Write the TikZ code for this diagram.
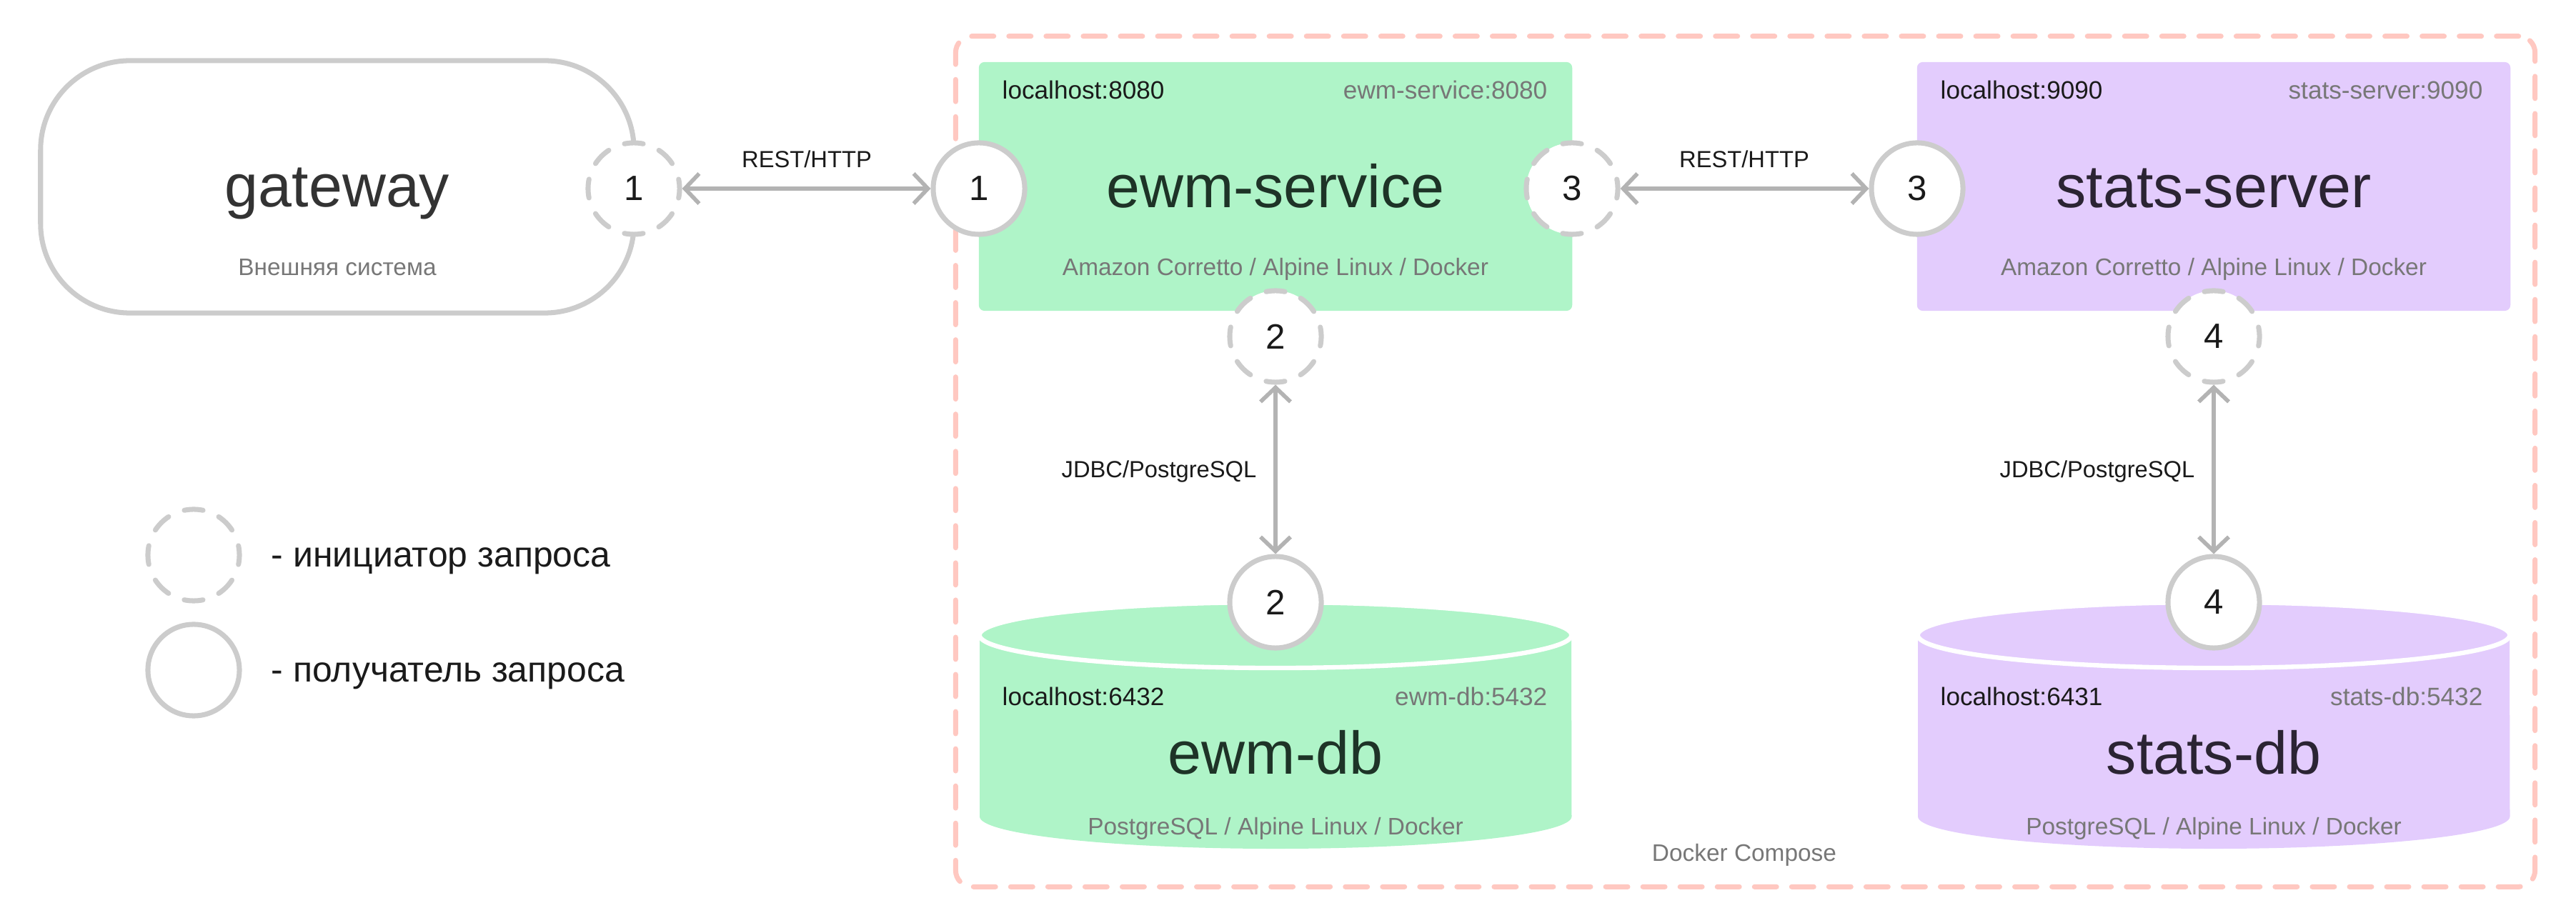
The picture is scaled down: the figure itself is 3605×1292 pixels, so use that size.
\documentclass[tikz,border=0pt]{standalone}
\usepackage{fontspec}
\setmainfont{Liberation Sans}
\usetikzlibrary{arrows.meta}
\definecolor{cgreen}{HTML}{AFF4C8}
\definecolor{cpurple}{HTML}{E3CCFD}
\definecolor{cring}{HTML}{CCCCCC}
\definecolor{carrow}{HTML}{B3B3B3}
\definecolor{cborder}{HTML}{FFC8C1}
\definecolor{cgraytext}{HTML}{777777}
\definecolor{cdark}{HTML}{1A1A1A}
\definecolor{cgreentext}{HTML}{1E3327}
\definecolor{cpurpletext}{HTML}{2B2433}
\begin{document}
\begin{tikzpicture}[x=0.01cm,y=-0.01cm,
  ring/.style={circle, draw=cring, fill=white, line width=2pt, minimum size=1.28cm, inner sep=0pt,
    font=\fontsize{14pt}{16pt}\selectfont, text=cdark},
  initring/.style={ring, dash pattern=on 7.5pt off 6.8pt, dash phase=3.75pt, line cap=round},
  conn/.style={draw=carrow, line width=1.6pt,
    {Straight Barb[length=0.2cm,width=0.42cm]}-{Straight Barb[length=0.2cm,width=0.42cm]}},
  box/.style={rounded corners=0.08cm, minimum width=8.3cm, minimum height=3.48cm, inner sep=0pt},
  bigtxt/.style={font=\fontsize{24pt}{28pt}\selectfont, anchor=base, inner sep=0pt},
  porttxt/.style={font=\fontsize{10pt}{12pt}\selectfont, inner sep=0pt},
  subtxt/.style={font=\fontsize{9.5pt}{11pt}\selectfont, text=cgraytext, anchor=mid, inner sep=0pt},
  labtxt/.style={font=\fontsize{9.3pt}{11pt}\selectfont, text=cdark, inner sep=0pt},
  legtxt/.style={font=\fontsize{14.2pt}{17pt}\selectfont, text=cdark, anchor=base west, inner sep=0pt}
]
\useasboundingbox (0,0) rectangle (3605,1292);

% Docker Compose border
\node[draw=cborder, line width=2pt, dash pattern=on 8.8pt off 6pt, line cap=round,
      rounded corners=0.23cm, minimum width=22.09cm, minimum height=11.9cm, inner sep=0pt]
      (compose) at (2442.5,646) {};
\node[subtxt] (composelbl) at (2441,1196) {Docker Compose};

% gateway
\node[draw=cring, line width=2pt, rounded corners=1.25cm, minimum width=8.3cm,
      minimum height=3.53cm, inner sep=0pt] (gw) at (472,261.5) {};
\node[bigtxt, text=black!80] (gwname) at (472,290) {gateway};
\node[subtxt] (gwsub) at (472,376) {Внешняя система};

% service boxes
\node[box, fill=cgreen] (ewm) at (1785,261) {};
\node[box, fill=cpurple] (stats) at (3098,261) {};

\node[porttxt, text=cdark, anchor=mid west] (ewmloc) at (1402,129) {localhost:8080};
\node[porttxt, text=cgraytext, anchor=mid east] (ewmint) at (2166,129) {ewm-service:8080};
\node[bigtxt, text=cgreentext] (ewmname) at (1785,291) {ewm-service};
\node[subtxt] (ewmsub) at (1785,376) {Amazon Corretto / Alpine Linux / Docker};

\node[porttxt, text=cdark, anchor=mid west] (statsloc) at (2715,129) {localhost:9090};
\node[porttxt, text=cgraytext, anchor=mid east] (statsint) at (3475,129) {stats-server:9090};
\node[bigtxt, text=cpurpletext] (statsname) at (3098,291) {stats-server};
\node[subtxt] (statssub) at (3098,376) {Amazon Corretto / Alpine Linux / Docker};

% databases
\begin{scope}[shift={(1785,0)}]
  \fill[cgreen] (-414,889) -- (-414,1143) arc[start angle=180,end angle=360,x radius=4.14cm,y radius=0.45cm] -- (414,889) -- cycle;
  \filldraw[fill=cgreen, draw=white, line width=1.8pt] (0,889) ellipse[x radius=4.14cm, y radius=0.46cm];
\end{scope}
\begin{scope}[shift={(3098,0)}]
  \fill[cpurple] (-414,889) -- (-414,1143) arc[start angle=180,end angle=360,x radius=4.14cm,y radius=0.45cm] -- (414,889) -- cycle;
  \filldraw[fill=cpurple, draw=white, line width=1.8pt] (0,889) ellipse[x radius=4.14cm, y radius=0.46cm];
\end{scope}

\node[porttxt, text=cdark, anchor=mid west] (ewmdbloc) at (1402,978) {localhost:6432};
\node[porttxt, text=cgraytext, anchor=mid east] (ewmdbint) at (2166,978) {ewm-db:5432};
\node[bigtxt, text=cgreentext] (ewmdbname) at (1785,1084) {ewm-db};
\node[subtxt] (ewmdbsub) at (1785,1159) {PostgreSQL / Alpine Linux / Docker};

\node[porttxt, text=cdark, anchor=mid west] (statsdbloc) at (2715,978) {localhost:6431};
\node[porttxt, text=cgraytext, anchor=mid east] (statsdbint) at (3475,978) {stats-db:5432};
\node[bigtxt, text=cpurpletext] (statsdbname) at (3098,1084) {stats-db};
\node[subtxt] (statsdbsub) at (3098,1159) {PostgreSQL / Alpine Linux / Docker};

% circles
\node[initring] (c1a) at (887,264) {1};
\node[ring] (c1b) at (1370,264) {1};
\node[initring] (c3a) at (2200,264) {3};
\node[ring] (c3b) at (2683,264) {3};
\node[initring] (c2a) at (1785,471) {2};
\node[ring] (c2b) at (1785,843) {2};
\node[initring] (c4a) at (3098,471) {4};
\node[ring] (c4b) at (3098,843) {4};

% connectors
\draw[conn] (c1a) -- (c1b);
\draw[conn] (c3a) -- (c3b);
\draw[conn] (c2a) -- (c2b);
\draw[conn] (c4a) -- (c4b);

\node[labtxt, anchor=center] (rest1) at (1129,223) {REST/HTTP};
\node[labtxt, anchor=center] (rest2) at (2441,223) {REST/HTTP};
\node[labtxt, anchor=mid east] (jdbc1) at (1759,659) {JDBC/PostgreSQL};
\node[labtxt, anchor=mid east] (jdbc2) at (3072,659) {JDBC/PostgreSQL};

% legend
\node[initring] (leg1) at (271,777) {};
\node[ring] (leg2) at (271,938) {};
\node[legtxt] (leg1txt) at (379,794) {- инициатор запроса};
\node[legtxt] (leg2txt) at (379,955) {- получатель запроса};
\end{tikzpicture}
\end{document}
